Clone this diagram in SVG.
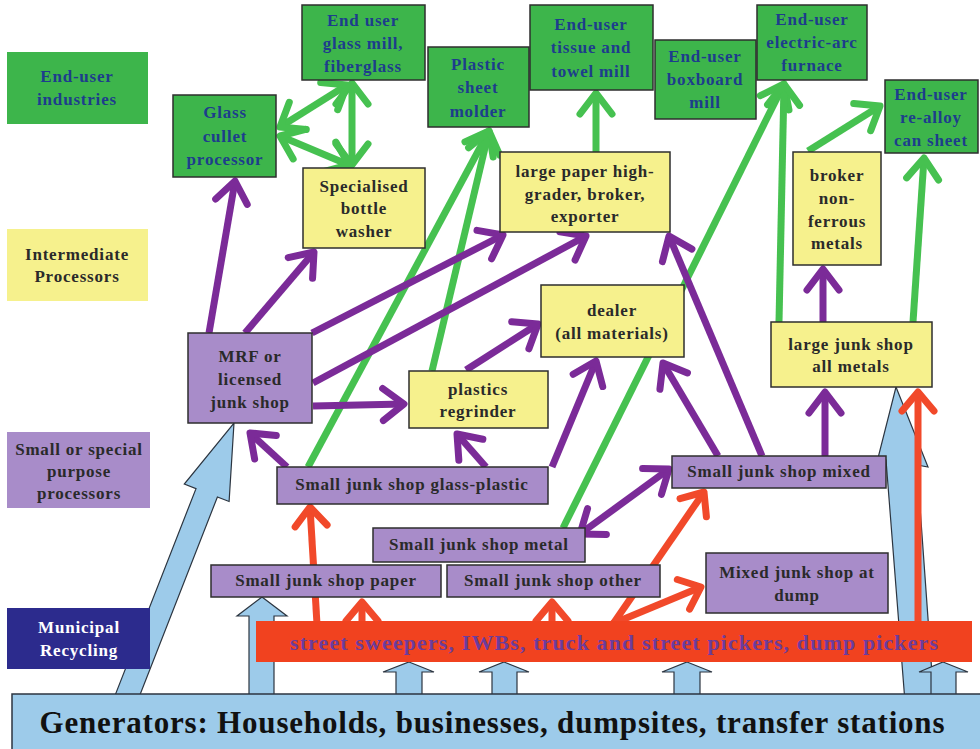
<svg xmlns="http://www.w3.org/2000/svg" width="980" height="749" viewBox="0 0 980 749">
  <style>
    .t { font-family: "Liberation Serif", "Times New Roman", serif; font-weight: bold; font-size: 17px; letter-spacing: 0.8px; text-anchor: middle; }
    .tb { fill: #1d3d8c; }
    .tk { fill: #2a2a2a; }
    .tw { fill: #ffffff; }
    .box { stroke: #2e2e2e; stroke-width: 1.5; }
    .grn { fill: #3db54b; }
    .yel { fill: #f6f18d; }
    .pur { fill: #a88cc9; }
    .navy { fill: #2c2b8d; }
    .blk { fill: #9dcbea; stroke: #2c3540; stroke-width: 1.2; stroke-linejoin: miter; }
    .lp { fill: none; stroke: #7b2b98; stroke-width: 7; marker-end: url(#hp); }
    .lg { fill: none; stroke: #46c150; stroke-width: 7; }
    .lr { fill: none; stroke: #f1492a; stroke-width: 7; marker-end: url(#hr); }
    .ah { marker-end: url(#hg); }
    .dp { marker-start: url(#hp); }
    .dg { marker-start: url(#hg); marker-end: url(#hg); }
  </style>
  <defs>
    <marker id="hp" markerUnits="userSpaceOnUse" viewBox="-30 -24 36 48" markerWidth="36" markerHeight="48" refX="0" refY="0" orient="auto-start-reverse">
      <path d="M-21,-16 L0,0 L-21,16" fill="none" stroke="#7b2b98" stroke-width="7" stroke-linecap="round" stroke-linejoin="round"/>
    </marker>
    <marker id="hg" markerUnits="userSpaceOnUse" viewBox="-30 -24 36 48" markerWidth="36" markerHeight="48" refX="0" refY="0" orient="auto-start-reverse">
      <path d="M-21,-16 L0,0 L-21,16" fill="none" stroke="#46c150" stroke-width="7" stroke-linecap="round" stroke-linejoin="round"/>
    </marker>
    <marker id="hr" markerUnits="userSpaceOnUse" viewBox="-30 -24 36 48" markerWidth="36" markerHeight="48" refX="0" refY="0" orient="auto-start-reverse">
      <path d="M-19,-16 L0,0 L-19,16" fill="none" stroke="#f1492a" stroke-width="7" stroke-linecap="round" stroke-linejoin="round"/>
    </marker>
  </defs>

  <rect x="0" y="0" width="980" height="749" fill="#ffffff"/>

  <!-- flows between actors -->
  <g id="connectors">
    <!-- block arrows from the generators -->
    <polygon class="blk" points="234,423 229.1,501.5 217.4,497 135.7,705.7 114.3,697.3 196,488.6 184.3,484.1"/>
    <polygon class="blk" points="896,387 928,467 917,465 934,702 905,702 886,460 878,458"/>
    <polygon class="blk" points="262,597 287,616 274,616 274,698 249,698 249,616 237,616"/>
    <polygon class="blk" points="409,662 434,672 422,672 422,698 396,698 396,672 383,672"/>
    <polygon class="blk" points="504,662 529,672 517,672 517,698 492,698 492,672 479,672"/>
    <polygon class="blk" points="687,662 712,672 700,672 700,698 674,698 674,672 662,672"/>
    <polygon class="blk" points="943,662 968,672 956,672 956,698 931,698 931,672 919,672"/>

    <!-- green: deliveries to end users -->
    <line class="lg dg" x1="352" y1="83" x2="352" y2="165"/>
    <line class="lg dg" x1="280" y1="127" x2="347" y2="85"/>
    <line class="lg dg" x1="280" y1="136" x2="349" y2="165"/>
    <line class="lg ah" x1="308" y1="467" x2="489" y2="131"/>
    <line class="lg ah" x1="432" y1="371" x2="489" y2="131"/>
    <line class="lg ah" x1="596" y1="152" x2="596" y2="93"/>
    <line class="lg ah" x1="563" y1="528" x2="784" y2="84"/>
    <line class="lg ah" x1="779" y1="322" x2="784" y2="84"/>
    <line class="lg ah" x1="808" y1="151" x2="880" y2="106"/>
    <line class="lg ah" x1="913" y1="322" x2="924" y2="158"/>

    <!-- purple: trade between processors -->
    <line class="lp" x1="209" y1="333" x2="235" y2="181"/>
    <line class="lp" x1="245" y1="333" x2="314" y2="252"/>
    <line class="lp" x1="312" y1="333" x2="503" y2="235"/>
    <line class="lp" x1="313" y1="383" x2="586" y2="236"/>
    <line class="lp" x1="313" y1="406" x2="404" y2="404"/>
    <line class="lp" x1="466" y1="370" x2="538" y2="324"/>
    <line class="lp" x1="486" y1="467" x2="457" y2="434"/>
    <line class="lp" x1="552" y1="467" x2="596" y2="361"/>
    <line class="lp" x1="287" y1="467" x2="250" y2="433"/>
    <line class="lp" x1="718" y1="456" x2="663" y2="363"/>
    <line class="lp" x1="762" y1="456" x2="669" y2="236"/>
    <line class="lp" x1="825" y1="456" x2="825" y2="392"/>
    <line class="lp" x1="823" y1="322" x2="823" y2="269"/>
    <line class="lp dp" x1="580" y1="534" x2="669" y2="469"/>

    <!-- red: informal collectors -->
    <line class="lr" x1="317" y1="624" x2="310" y2="507"/>
    <line class="lr" x1="362" y1="624" x2="362" y2="602"/>
    <line class="lr" x1="552" y1="624" x2="552" y2="602"/>
    <line class="lr" x1="613" y1="624" x2="704" y2="492"/>
    <line class="lr" x1="612" y1="624" x2="701" y2="587"/>
    <line class="lr" x1="918" y1="624" x2="918" y2="392"/>
  </g>

  <!-- legend column -->
  <g id="legend-end-user">
    <rect class="grn" x="7" y="52" width="141" height="72"/>
    <text class="t tb"><tspan x="77" y="82">End-user</tspan><tspan x="77" y="105">industries</tspan></text>
  </g>
  <g id="legend-intermediate">
    <rect class="yel" x="7" y="229" width="141" height="72"/>
    <text class="t tk"><tspan x="77" y="260">Intermediate</tspan><tspan x="77" y="282">Processors</tspan></text>
  </g>
  <g id="legend-small">
    <rect class="pur" x="7" y="432" width="143" height="76"/>
    <text class="t tk"><tspan x="79" y="455">Small or special</tspan><tspan x="79" y="477">purpose</tspan><tspan x="79" y="499">processors</tspan></text>
  </g>
  <g id="legend-municipal">
    <rect class="navy" x="7" y="608" width="143" height="61"/>
    <text class="t tw"><tspan x="79" y="633">Municipal</tspan><tspan x="79" y="656">Recycling</tspan></text>
  </g>

  <!-- end users -->
  <g id="glass-cullet">
    <rect class="box grn" x="173" y="95" width="103" height="82"/>
    <text class="t tb"><tspan x="225" y="118">Glass</tspan><tspan x="225" y="142">cullet</tspan><tspan x="225" y="165">processor</tspan></text>
  </g>
  <g id="glass-mill">
    <rect class="box grn" x="302" y="5" width="123" height="75"/>
    <text class="t tb"><tspan x="363" y="26">End user</tspan><tspan x="363" y="49">glass mill,</tspan><tspan x="363" y="72">fiberglass</tspan></text>
  </g>
  <g id="plastic-molder">
    <rect class="box grn" x="428" y="47" width="101" height="80"/>
    <text class="t tb"><tspan x="478" y="70">Plastic</tspan><tspan x="478" y="93">sheet</tspan><tspan x="478" y="117">molder</tspan></text>
  </g>
  <g id="tissue-mill">
    <rect class="box grn" x="530" y="5" width="123" height="85"/>
    <text class="t tb"><tspan x="591" y="30">End-user</tspan><tspan x="591" y="53">tissue and</tspan><tspan x="591" y="77">towel mill</tspan></text>
  </g>
  <g id="boxboard-mill">
    <rect class="box grn" x="655" y="40" width="101" height="79"/>
    <text class="t tb"><tspan x="705" y="62">End-user</tspan><tspan x="705" y="85">boxboard</tspan><tspan x="705" y="108">mill</tspan></text>
  </g>
  <g id="arc-furnace">
    <rect class="box grn" x="757" y="5" width="110" height="75"/>
    <text class="t tb"><tspan x="812" y="25">End-user</tspan><tspan x="812" y="48">electric-arc</tspan><tspan x="812" y="71">furnace</tspan></text>
  </g>
  <g id="can-sheet">
    <rect class="box grn" x="885" y="80" width="93" height="73"/>
    <text class="t tb"><tspan x="931" y="100">End-user</tspan><tspan x="931" y="123">re-alloy</tspan><tspan x="931" y="146">can sheet</tspan></text>
  </g>

  <!-- intermediate processors -->
  <g id="bottle-washer">
    <rect class="box yel" x="303" y="168" width="122" height="80"/>
    <text class="t tk"><tspan x="364" y="192">Specialised</tspan><tspan x="364" y="214">bottle</tspan><tspan x="364" y="237">washer</tspan></text>
  </g>
  <g id="paper-grader">
    <rect class="box yel" x="500" y="152" width="170" height="80"/>
    <text class="t tk"><tspan x="585" y="177">large paper high-</tspan><tspan x="585" y="200">grader, broker,</tspan><tspan x="585" y="222">exporter</tspan></text>
  </g>
  <g id="dealer">
    <rect class="box yel" x="541" y="285" width="143" height="72"/>
    <text class="t tk"><tspan x="612" y="316">dealer</tspan><tspan x="612" y="339">(all materials)</tspan></text>
  </g>
  <g id="plastics-regrinder">
    <rect class="box yel" x="409" y="371" width="139" height="57"/>
    <text class="t tk"><tspan x="478" y="395">plastics</tspan><tspan x="478" y="417">regrinder</tspan></text>
  </g>
  <g id="broker-nonferrous">
    <rect class="box yel" x="793" y="152" width="88" height="113"/>
    <text class="t tk"><tspan x="837" y="181">broker</tspan><tspan x="837" y="204">non-</tspan><tspan x="837" y="227">ferrous</tspan><tspan x="837" y="249">metals</tspan></text>
  </g>
  <g id="large-junk-shop">
    <rect class="box yel" x="771" y="322" width="161" height="65"/>
    <text class="t tk"><tspan x="851" y="350">large junk shop</tspan><tspan x="851" y="372">all metals</tspan></text>
  </g>

  <!-- small or special purpose processors -->
  <g id="mrf">
    <rect class="box pur" x="188" y="333" width="124" height="90"/>
    <text class="t tk"><tspan x="250" y="362">MRF or</tspan><tspan x="250" y="385">licensed</tspan><tspan x="250" y="408">junk shop</tspan></text>
  </g>
  <g id="shop-glass-plastic">
    <rect class="box pur" x="277" y="467" width="271" height="37"/>
    <text class="t tk" x="412" y="490">Small junk shop glass-plastic</text>
  </g>
  <g id="shop-mixed">
    <rect class="box pur" x="672" y="456" width="214" height="32"/>
    <text class="t tk" x="779" y="477">Small junk shop mixed</text>
  </g>
  <g id="shop-metal">
    <rect class="box pur" x="373" y="528" width="212" height="34"/>
    <text class="t tk" x="479" y="550">Small junk shop metal</text>
  </g>
  <g id="shop-paper">
    <rect class="box pur" x="211" y="565" width="230" height="32"/>
    <text class="t tk" x="326" y="586">Small junk shop paper</text>
  </g>
  <g id="shop-other">
    <rect class="box pur" x="447" y="565" width="213" height="32"/>
    <text class="t tk" x="553" y="586">Small junk shop other</text>
  </g>
  <g id="shop-dump">
    <rect class="box pur" x="706" y="553" width="182" height="60"/>
    <text class="t tk"><tspan x="797" y="578">Mixed junk shop at</tspan><tspan x="797" y="601">dump</tspan></text>
  </g>

  <!-- informal collectors -->
  <g id="pickers">
    <rect x="256" y="621" width="716" height="41" fill="#f1421f"/>
    <text x="614" y="650" textLength="648" lengthAdjust="spacing" font-family="Liberation Serif, Times New Roman, serif" font-weight="bold" font-size="22" fill="#6c3c9c" text-anchor="middle">street sweepers, IWBs, truck and street pickers, dump pickers</text>
  </g>

  <!-- waste sources -->
  <g id="generators">
    <rect x="12" y="694" width="975" height="60" fill="#9dcbea" stroke="#2c3540" stroke-width="1.5"/>
    <text x="492" y="733" textLength="905" lengthAdjust="spacing" font-family="Liberation Serif, Times New Roman, serif" font-weight="bold" font-size="31" fill="#111111" text-anchor="middle">Generators: Households, businesses, dumpsites, transfer stations</text>
  </g>
</svg>
